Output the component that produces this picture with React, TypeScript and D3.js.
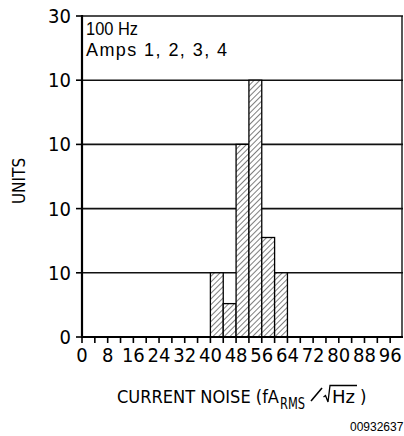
import React from "react";
import * as d3 from "d3";

const binStarts = [40, 44, 48, 52, 56, 60];
const binWidth = 4;
const binHeights = [1, 0.52, 3, 4, 1.55, 1];
const yTickValues = [0, 1, 2, 3, 4, 5];
const yTickLabels = ["0", "10", "10", "10", "10", "30"];
const xLabelTicks = [0, 8, 16, 24, 32, 40, 48, 56, 64, 72, 80, 88, 96];
const xMinorTicks = d3.range(0, 100, 4);
const legendLines = ["100 Hz", "Amps 1, 2, 3, 4"];

const W = 404;
const H = 436;
const left = 82;
const right = 403;
const top = 16;
const bottom = 337;
const FONT = "'Liberation Sans', Arial, Helvetica, sans-serif";
const NARROW = "'Liberation Sans Narrow', 'DejaVu Sans Condensed', 'Liberation Sans', sans-serif";

export default function App() {
  const x = d3.scaleLinear().domain([0, 100]).range([left, right]);
  const y = d3.scaleLinear().domain([0, 5]).range([bottom, top]);

  return (
    <svg
      width={W}
      height={H}
      style={{ position: "absolute", left: 0, top: 0, background: "#fff" }}
      fontFamily={FONT}
    >
      <defs>
        <pattern
          id="hatch"
          patternUnits="userSpaceOnUse"
          width={4}
          height={4}
          patternTransform="rotate(45)"
        >
          <rect width={4} height={4} fill="#fff" />
          <line x1={0} y1={0} x2={0} y2={4} stroke="#000" strokeWidth={1} />
        </pattern>
      </defs>
      <rect width={W} height={H} fill="#fff" />

      {/* gridlines */}
      {yTickValues.slice(1, 5).map((v) => (
        <line
          key={"g" + v}
          x1={left}
          x2={right}
          y1={y(v)}
          y2={y(v)}
          stroke="#111"
          strokeWidth={1.6}
        />
      ))}
      {/* top & right border */}
      <line x1={left} x2={right} y1={top} y2={top} stroke="#111" strokeWidth={1.6} />
      <line x1={right - 1} x2={right - 1} y1={top} y2={bottom} stroke="#111" strokeWidth={1.4} />

      {/* bars */}
      {binStarts.map((s, i) => (
        <rect
          key={"b" + i}
          x={x(s)}
          y={y(binHeights[i])}
          width={x(s + binWidth) - x(s)}
          height={bottom - y(binHeights[i])}
          fill="url(#hatch)"
          stroke="#000"
          strokeWidth={1.3}
        />
      ))}

      {/* axes */}
      <line x1={left} x2={left} y1={top - 1} y2={bottom + 1} stroke="#000" strokeWidth={2.2} />
      <line x1={left - 1} x2={right} y1={bottom} y2={bottom} stroke="#000" strokeWidth={2.2} />

      {/* y ticks */}
      {yTickValues.map((v, i) => (
        <g key={"yt" + v}>
          <line x1={left - 6} x2={left} y1={y(v)} y2={y(v)} stroke="#000" strokeWidth={1.6} />
          <text
            x={left - 11}
            y={y(v) + 7}
            textAnchor="end"
            fontSize={20}
            fontFamily={NARROW}
            fill="#000"
          >
            {yTickLabels[i]}
          </text>
        </g>
      ))}

      {/* x ticks */}
      {xMinorTicks.map((v) => (
        <line
          key={"xt" + v}
          x1={x(v)}
          x2={x(v)}
          y1={bottom}
          y2={bottom + 6}
          stroke="#000"
          strokeWidth={1.6}
        />
      ))}
      {xLabelTicks.map((v) => (
        <text
          key={"xl" + v}
          x={x(v)}
          y={bottom + 25}
          textAnchor="middle"
          fontSize={20}
          fontFamily={NARROW}
          fill="#000"
        >
          {v}
        </text>
      ))}

      {/* legend text */}
      <text
        x={86}
        y={35}
        fontSize={18}
        fill="#000"
        textLength={52}
        lengthAdjust="spacingAndGlyphs"
      >
        {legendLines[0]}
      </text>
      <text
        x={86}
        y={56}
        fontSize={18}
        fill="#000"
        textLength={141}
        lengthAdjust="spacing"
      >
        {legendLines[1]}
      </text>

      {/* y axis title */}
      <text
        transform="translate(25,181) rotate(-90)"
        textAnchor="middle"
        fontSize={17}
        fontFamily={NARROW}
        fill="#000"
      >
        UNITS
      </text>

      {/* x axis title */}
      <text
        x={117}
        y={403}
        fontSize={18.5}
        fontFamily={NARROW}
        fill="#000"
        textLength={162}
        lengthAdjust="spacingAndGlyphs"
      >
        CURRENT NOISE (fA
      </text>
      <text x={280} y={409} fontSize={15} fontFamily={NARROW} fill="#000" textLength={25} lengthAdjust="spacingAndGlyphs">
        RMS
      </text>
      <line x1={311} x2={322} y1={401} y2={388} stroke="#000" strokeWidth={1.6} />
      <path d="M323.5,397 L325.5,395.5 L328,402 L330,385.5 L357,385.5" fill="none" stroke="#000" strokeWidth={1.3} />
      <text x={332} y={403} fontSize={18.5} fontFamily={NARROW} fill="#000" textLength={23} lengthAdjust="spacingAndGlyphs">
        Hz
      </text>
      <text x={360} y={403} fontSize={18.5} fontFamily={NARROW} fill="#000">)</text>

      {/* figure id */}
      <text x={350} y={431} fontSize={12} fill="#000">
        00932637
      </text>
    </svg>
  );
}
